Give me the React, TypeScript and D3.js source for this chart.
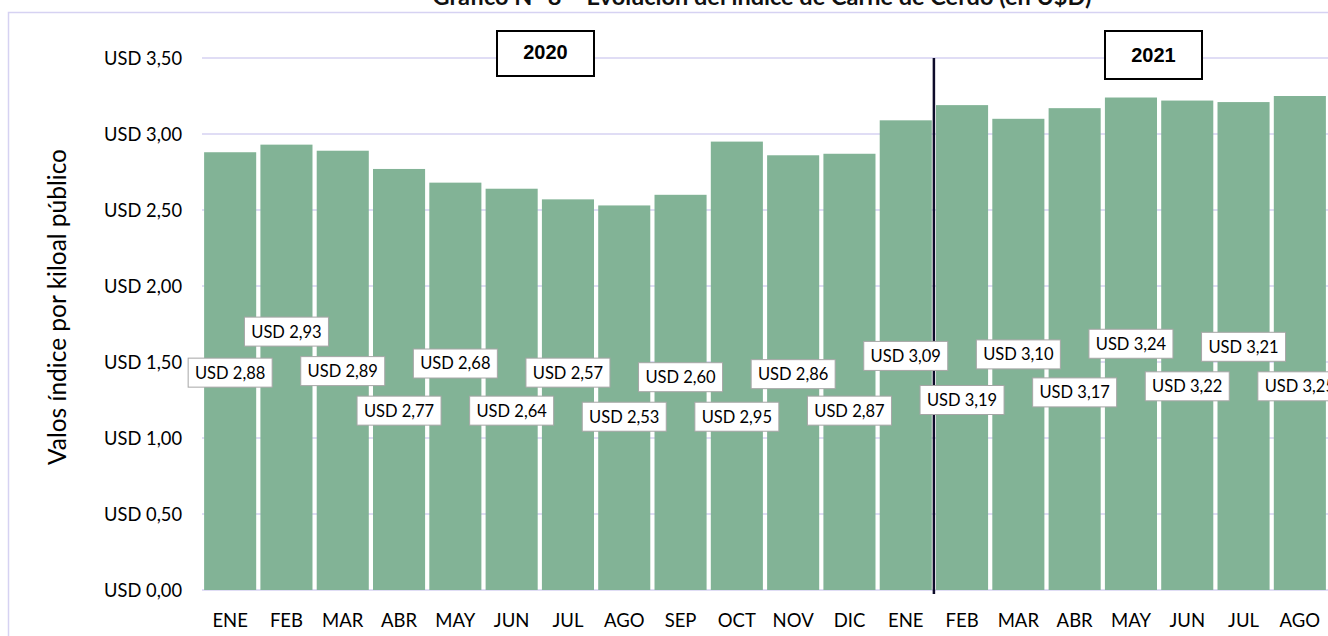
import React from 'react'
import { scaleBand, scaleLinear, range } from 'd3'

// Datos
const months = ['ENE', 'FEB', 'MAR', 'ABR', 'MAY', 'JUN', 'JUL', 'AGO', 'SEP', 'OCT', 'NOV', 'DIC',
    'ENE', 'FEB', 'MAR', 'ABR', 'MAY', 'JUN', 'JUL', 'AGO']
const prices = [2.88, 2.93, 2.89, 2.77, 2.68, 2.64, 2.57, 2.53, 2.60, 2.95, 2.86, 2.87,
    3.09, 3.19, 3.10, 3.17, 3.24, 3.22, 3.21, 3.25]
// nivel (en USD) donde quedaron las etiquetas, movidas a mano en el original
const labelLevels = [1.43, 1.70, 1.44, 1.18, 1.49, 1.18, 1.43, 1.14, 1.40, 1.14, 1.42, 1.18,
    1.54, 1.25, 1.55, 1.30, 1.62, 1.34, 1.60, 1.34]
const yTicks = [0, 0.5, 1, 1.5, 2, 2.5, 3, 3.5]
const years = ['2020', '2021']

const title = 'Gráfico N° 8 – Evolución del índice de Carne de Cerdo (en U$D)'
const yTitle = 'Valos índice por kiloal público'

// Estilo
const W = 1328
const H = 636
const font = 'Lato, "Open Sans", sans-serif'
const barColor = '#82b396'
const gridColor = '#d6d2f2'

const fmt = (v: number) => 'USD ' + v.toFixed(2).replace('.', ',')

const App = () => {
    const x = scaleBand<number>()
        .domain(range(months.length))
        .range([202, 1328])
        .paddingInner(0.075)
        .paddingOuter(0.0375)

    const y = scaleLinear()
        .domain([0, 3.5])
        .range([590, 58])

    // separación entre 2020 y 2021
    const splitX = (x(12)! + x.bandwidth() + x(13)!) / 2

    return (
        <svg width={W} height={H} style={{ position: 'absolute', left: 0, top: 0 }}>
            <rect width={W} height={H} fill="#fff" />
            <text x={762} y={5} textAnchor="middle" fontFamily={font} fontWeight="bold" fontSize={23.5} fill="#111">
                {title}
            </text>
            {/* borde del área del gráfico */}
            <path d={`M8.5,${H} V12.5 H${W}`} fill="none" stroke={gridColor} strokeWidth={1.5} />

            {yTicks.map((t) => (
                <g key={t}>
                    <line x1={202} x2={W} y1={y(t)} y2={y(t)} stroke={gridColor} strokeWidth={1.5} />
                    <text x={182} y={y(t)} dy="0.36em" textAnchor="end" fontFamily={font} fontSize={18.3} fill="#000">
                        {fmt(t)}
                    </text>
                </g>
            ))}

            <text transform={`translate(57,${307}) rotate(-90)`} textAnchor="middle" dy="0.36em"
                fontFamily={font} fontSize={24.5} fill="#000">
                {yTitle}
            </text>

            {prices.map((v, i) => (
                <rect key={'b' + i} x={x(i)} y={y(v)} width={x.bandwidth()} height={y(0) - y(v)} fill={barColor} />
            ))}

            {months.map((m, i) => (
                <text key={'m' + i} x={x(i)! + x.bandwidth() / 2} y={620} dy="0.36em" textAnchor="middle"
                    fontFamily={font} fontSize={18.5} fill="#000">
                    {m}
                </text>
            ))}

            <line x1={splitX} x2={splitX} y1={y(3.5)} y2={594} stroke="#0d0b2a" strokeWidth={2.5} />

            {prices.map((v, i) => {
                const cx = x(i)! + x.bandwidth() / 2
                const cy = y(labelLevels[i])
                return (
                    <g key={'l' + i}>
                        <rect x={cx - 42} y={cy - 14.5} width={84} height={29} fill="#fff" stroke="#a6a6a6" strokeWidth={1} />
                        <text x={cx} y={cy} dy="0.36em" textAnchor="middle" fontFamily={font} fontSize={16.5} fill="#000">
                            {fmt(v)}
                        </text>
                    </g>
                )
            })}

            {/* cajas de año */}
            {years.map((yr, i) => {
                const bx = i === 0 ? 497 : 1105
                return (
                    <g key={yr}>
                        <rect x={bx} y={31} width={97} height={i === 0 ? 45 : 48} fill="#fff" stroke="#000" strokeWidth={2} />
                        <text x={bx + 48.5} y={i === 0 ? 52 : 55} dy="0.36em" textAnchor="middle"
                            fontFamily="Arial, 'Liberation Sans', sans-serif" fontWeight="bold" fontSize={20} fill="#000">
                            {yr}
                        </text>
                    </g>
                )
            })}
        </svg>
    )
}

export default App
